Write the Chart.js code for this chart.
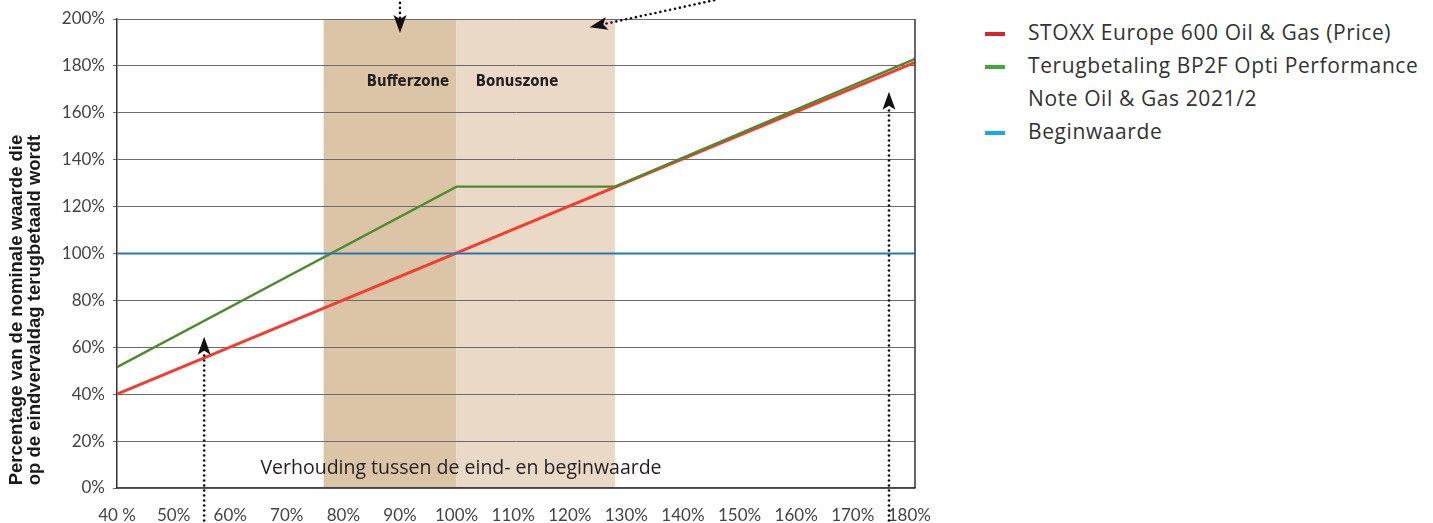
<!DOCTYPE html>
<html>
<head>
<meta charset="utf-8">
<script src="https://cdn.jsdelivr.net/npm/chart.js@4"></script>
<style>
  body { margin: 0; background: #fff; width: 1433px; height: 523px; overflow: hidden; position: relative; }
  #wrap { position: absolute; left: 0; top: 0; width: 960px; height: 523px; }
  #legend { position: absolute; left: 985px; top: 16px; font-family: "Open Sans", sans-serif; font-size: 21px; letter-spacing: 0.6px; color: #333; line-height: 33px; }
  .item { position: relative; padding-left: 43px; }
  .item i { position: absolute; left: 0; top: 16px; width: 20px; height: 4px; }
</style>
</head>
<body>
<div id="wrap"><canvas id="chartPerf" width="960" height="523"></canvas></div>
<div id="legend"></div>
<script>
// waarden
const xTicks = [40, 50, 60, 70, 80, 90, 100, 110, 120, 130, 140, 150, 160, 170, 180];
const yTicks = [0, 20, 40, 60, 80, 100, 120, 140, 160, 180, 200];
const stoxxPunten = [{x: 40, y: 40}, {x: 181, y: 181.5}];
const terugbetalingPunten = [{x: 40, y: 51.5}, {x: 100, y: 128.5}, {x: 128, y: 128.5}, {x: 181, y: 183}];
const beginwaardePunten = [{x: 40, y: 100}, {x: 181, y: 100}];
const zones = [
  {naam: 'Bufferzone', van: 76.5, tot: 100, kleur: '#dcc4a7'},
  {naam: 'Bonuszone', van: 100, tot: 128, kleur: '#e9d9c6'}
];
// pijlen: van (x,y) naar punt (x,y)
const pijlen = [
  {van: [90, 209], naar: [90, 194]},
  {van: [145.5, 208], naar: [123.5, 196.5]},
  {van: [55.4, -16], naar: [55.4, 64.5]},
  {van: [176.4, -16], naar: [176.4, 169]}
];
const legendItems = [
  {tekst: 'STOXX Europe 600 Oil &amp; Gas (Price)', kleur: '#d7262b'},
  {tekst: 'Terugbetaling BP2F Opti Performance<br>Note Oil &amp; Gas 2021/2', kleur: '#3faa3a'},
  {tekst: 'Beginwaarde', kleur: '#1aa8e6'}
];

// legende in html
document.getElementById('legend').innerHTML = legendItems
  .map(l => `<div class="item"><i style="background:${l.kleur}"></i>${l.tekst}</div>`).join('');

const achtergrond = {
  id: 'achtergrond',
  beforeDraw(chart) {
    const {ctx, chartArea, scales} = chart;
    ctx.save();
    zones.forEach(z => {
      const x1 = scales.x.getPixelForValue(z.van);
      const x2 = scales.x.getPixelForValue(z.tot);
      ctx.fillStyle = z.kleur;
      ctx.fillRect(x1, chartArea.top, x2 - x1, chartArea.bottom - chartArea.top);
    });
    ctx.restore();
  }
};

function tekenPijl(ctx, x1, y1, x2, y2) {
  const hoek = Math.atan2(y2 - y1, x2 - x1);
  const lengte = Math.hypot(x2 - x1, y2 - y1) - 14;
  ctx.fillStyle = '#111';
  for (let d = 0; d < lengte; d += 5) {
    ctx.beginPath();
    ctx.arc(x1 + Math.cos(hoek) * d, y1 + Math.sin(hoek) * d, 1.3, 0, Math.PI * 2);
    ctx.fill();
  }
  ctx.save();
  ctx.translate(x2, y2);
  ctx.rotate(hoek);
  ctx.beginPath();
  ctx.moveTo(0, 0);
  ctx.lineTo(-18, -6.5);
  ctx.lineTo(-14, 0);
  ctx.lineTo(-18, 6.5);
  ctx.closePath();
  ctx.fill();
  ctx.restore();
}

const extras = {
  id: 'extras',
  afterDraw(chart) {
    const {ctx, chartArea, scales} = chart;
    ctx.save();
    // rechterrand
    ctx.strokeStyle = '#333';
    ctx.lineWidth = 1.5;
    ctx.beginPath();
    ctx.moveTo(chartArea.right, chartArea.top);
    ctx.lineTo(chartArea.right, chartArea.bottom);
    ctx.stroke();

    // zone labels
    ctx.fillStyle = '#231f20';
    ctx.font = 'bold 15px "DejaVu Sans Condensed", "Liberation Sans Narrow", sans-serif';
    ctx.textAlign = 'center';
    ctx.textBaseline = 'middle';
    ctx.fillText('Bufferzone', 408, scales.y.getPixelForValue(173));
    ctx.fillText('Bonuszone', 517, scales.y.getPixelForValue(173));

    // x-as titel binnen de grafiek
    ctx.font = '500 19.5px "Open Sans", sans-serif';
    ctx.fillText('Verhouding tussen de eind- en beginwaarde', 461, scales.y.getPixelForValue(8.5));

    // y-as titel
    ctx.translate(26, 310);
    ctx.rotate(-Math.PI / 2);
    ctx.font = 'bold 18.5px "Liberation Sans", Arial, sans-serif';
    ctx.fillStyle = '#1a1a1a';
    ctx.fillText('Percentage van de nominale waarde die', 0, -9);
    ctx.fillText('op de eindvervaldag terugbetaald wordt', 0, 9);
    ctx.restore();

    ctx.save();
    pijlen.forEach(p => {
      tekenPijl(ctx,
        scales.x.getPixelForValue(p.van[0]), scales.y.getPixelForValue(p.van[1]),
        scales.x.getPixelForValue(p.naar[0]), scales.y.getPixelForValue(p.naar[1]));
    });
    ctx.restore();
  }
};

const ctx = document.getElementById('chartPerf').getContext('2d');
new Chart(ctx, {
  type: 'line',
  data: {
    datasets: [
      {label: 'Beginwaarde', data: beginwaardePunten, borderColor: '#2478b5', borderWidth: 1.8, pointRadius: 0},
      {label: 'Terugbetaling', data: terugbetalingPunten, borderColor: '#4e8a2f', borderWidth: 2.4, pointRadius: 0},
      {label: 'STOXX Europe 600 Oil & Gas (Price)', data: stoxxPunten, borderColor: '#f03e30', borderWidth: 3, pointRadius: 0}
    ]
  },
  options: {
    responsive: false,
    animation: false,
    layout: {padding: {top: 19, right: 45, left: 0, bottom: 0}},
    plugins: {legend: {display: false}, tooltip: {enabled: false}},
    scales: {
      x: {
        type: 'linear',
        min: 40,
        max: 181,
        afterBuildTicks(scale) { scale.ticks = xTicks.map(v => ({value: v})); },
        afterFit(scale) { scale.height = 35; },
        grid: {display: false},
        border: {color: '#444', width: 1.5},
        ticks: {
          padding: 9,
          maxRotation: 0,
          autoSkip: false,
          color: '#444',
          font: {family: 'Lato, sans-serif', size: 17},
          callback: v => v === 40 ? '40 %' : v + '%'
        }
      },
      y: {
        min: 0,
        max: 200,
        afterBuildTicks(scale) { scale.ticks = yTicks.map(v => ({value: v})); },
        afterFit(scale) { scale.width = 117; },
        grid: {color: '#6b6b6b', lineWidth: 1, tickLength: 4},
        border: {color: '#333', width: 1.5},
        ticks: {
          padding: 8,
          color: '#444',
          font: {family: 'Lato, sans-serif', size: 17},
          callback: v => v + '%'
        }
      }
    }
  },
  plugins: [achtergrond, extras]
});
</script>
</body>
</html>
